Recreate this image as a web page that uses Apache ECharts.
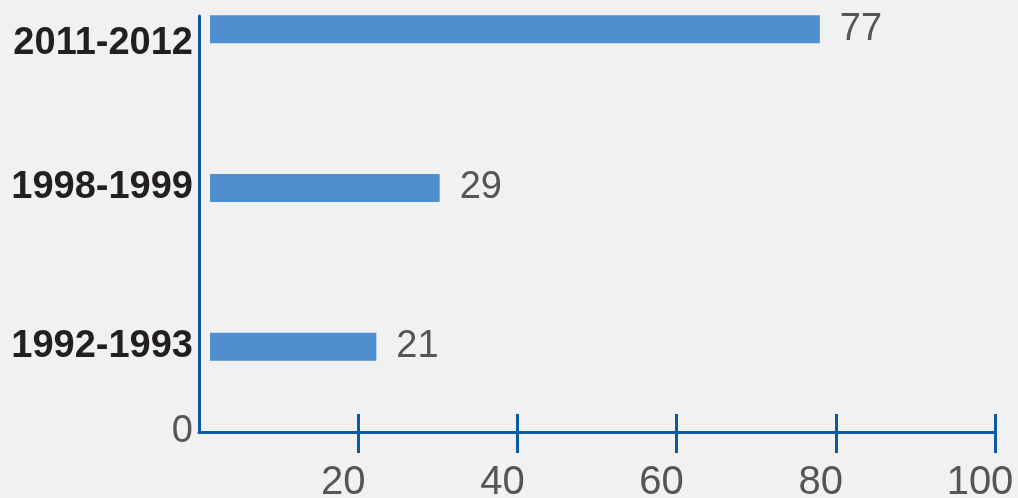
<!DOCTYPE html>
<html>
<head>
<meta charset="utf-8">
<script src="https://cdn.jsdelivr.net/npm/echarts@6/dist/echarts.min.js"></script>
<style>
  html, body { margin: 0; padding: 0; background: #f1f1f1; }
  #chart { width: 1018px; height: 498px; }
</style>
</head>
<body>
<div id="chart"></div>
<script>
// data
const periods = ['1992-1993', '1998-1999', '2011-2012']
const values = [21, 29, 77]
const xTicks = [20, 40, 60, 80, 100]

const axisBlue = '#0c5aa2'
const barBlue = '#4f8fce'
const grey = '#555555'
const font = 'Liberation Sans, Helvetica, Arial, sans-serif'

const chart = echarts.init(document.getElementById('chart'), null, { renderer: 'canvas' })

const option = {
  backgroundColor: '#f1f1f1',
  animation: false,
  grid: [
    // bars
    { left: 210, right: 16, top: -50, bottom: 72, outerBoundsMode: 'none', containLabel: false },
    // axis frame
    { left: 199, right: 23, top: 16, bottom: 66, outerBoundsMode: 'none', containLabel: false }
  ],
  xAxis: [
    {
      gridIndex: 0, type: 'value', min: 0, max: 100, show: false
    },
    {
      // ticks below the line + labels
      gridIndex: 1, type: 'value', min: 0, max: 100, interval: 20, position: 'bottom',
      axisLine: { show: true, lineStyle: { color: axisBlue, width: 3 } },
      axisTick: { show: true, customValues: xTicks, length: 21, lineStyle: { color: axisBlue, width: 3 } },
      axisLabel: {
        customValues: xTicks, color: grey, fontSize: 40, fontFamily: font,
        margin: 31, padding: [0, 30, 0, 0]
      },
      splitLine: { show: false }
    },
    {
      // ticks above the line
      gridIndex: 1, type: 'value', min: 0, max: 100, interval: 20, position: 'bottom',
      axisLine: { show: false },
      axisTick: { show: true, inside: true, customValues: xTicks, length: 18, lineStyle: { color: axisBlue, width: 3 } },
      axisLabel: { show: false },
      splitLine: { show: false }
    }
  ],
  yAxis: [
    {
      gridIndex: 0, type: 'category', data: periods,
      axisLine: { show: false },
      axisTick: { show: false },
      axisLabel: {
        color: '#231f20', fontSize: 38, fontWeight: 'bold', fontFamily: font, margin: 17,
        formatter: (v, i) => i === 2 ? '{low|' + v + '}' : v,
        rich: {
          low: { color: '#231f20', fontSize: 38, fontWeight: 'bold', fontFamily: font, padding: [28, 0, 0, 0] }
        }
      }
    },
    {
      gridIndex: 1, type: 'value', min: 0, max: 1,
      axisLine: { show: true, lineStyle: { color: axisBlue, width: 3 } },
      axisTick: { show: false },
      splitLine: { show: false },
      axisLabel: {
        customValues: [0], formatter: () => '0',
        color: grey, fontSize: 38, fontFamily: font, margin: 6
      }
    }
  ],
  series: [
    {
      type: 'bar',
      xAxisIndex: 0,
      yAxisIndex: 0,
      data: values,
      barWidth: 28,
      itemStyle: { color: barBlue },
      label: {
        show: true, position: 'right', distance: 20,
        color: grey, fontSize: 38, fontFamily: font
      }
    }
  ]
}

chart.setOption(option)
</script>
</body>
</html>
